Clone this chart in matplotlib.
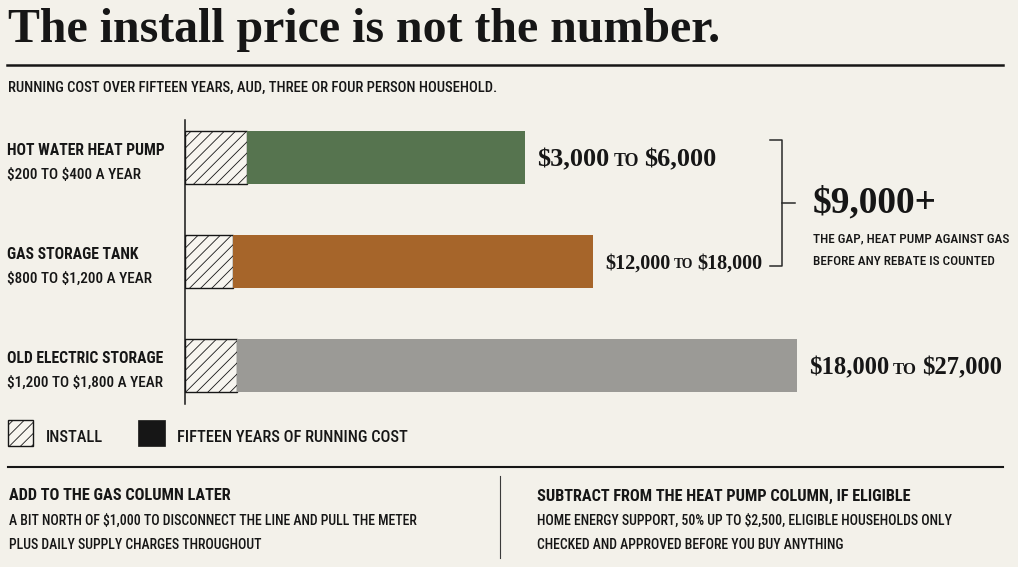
import matplotlib
matplotlib.use('Agg')
import matplotlib.pyplot as plt
from matplotlib import font_manager
from matplotlib.patches import Rectangle
from matplotlib.lines import Line2D
from matplotlib.transforms import Affine2D

# ---- data ----
systems = ['HOT WATER HEAT PUMP', 'GAS STORAGE TANK', 'OLD ELECTRIC STORAGE']
year_lo = ['$200', '$800', '$1,200']
year_hi = ['$400', '$1,200', '$1,800']
total_lo = ['$3,000', '$12,000', '$18,000']
total_hi = ['$6,000', '$18,000', '$27,000']
install = [1.55, 1.2, 1.3]      # bar lengths, arbitrary units
running = [6.95, 9.0, 14.0]
gap_value = '$9,000+'
gap_notes = ['THE GAP, HEAT PUMP AGAINST GAS', 'BEFORE ANY REBATE IS COUNTED']
legend_labels = ['INSTALL', 'FIFTEEN YEARS OF RUNNING COST']
left_head = 'ADD TO THE GAS COLUMN LATER'
left_lines = ['A BIT NORTH OF $1,000 TO DISCONNECT THE LINE AND PULL THE METER',
              'PLUS DAILY SUPPLY CHARGES THROUGHOUT']
right_head = 'SUBTRACT FROM THE HEAT PUMP COLUMN, IF ELIGIBLE'
right_lines = ['HOME ENERGY SUPPORT, 50% UP TO $2,500, ELIGIBLE HOUSEHOLDS ONLY',
               'CHECKED AND APPROVED BEFORE YOU BUY ANYTHING']
title = 'The install price is not the number.'
subtitle = 'RUNNING COST OVER FIFTEEN YEARS, AUD, THREE OR FOUR PERSON HOUSEHOLD.'

colors = ['#56744f', '#a6652a', '#9b9a96']
BG = '#f3f1ea'
INK = '#161616'
HATCH_FACE = '#f7f5ef'
SERIF = 'Liberation Serif'

# pick the narrowest sans we can find
fonts = font_manager.fontManager.ttflist
names = {f.name for f in fonts}
SANS, STRETCH = 'Roboto', 'normal'
for n in ['Roboto Condensed', 'Liberation Sans Narrow', 'Open Sans Condensed',
          'Noto Sans Condensed', 'DejaVu Sans Condensed']:
    if n in names:
        SANS = n
        break
else:
    for n in ['Roboto', 'Noto Sans', 'DejaVu Sans']:
        if any(f.name == n and f.stretch == 'condensed' for f in fonts):
            SANS, STRETCH = n, 'condensed'
            break

plt.rcParams['hatch.linewidth'] = 0.6

W, H = 1018, 567
fig = plt.figure(figsize=(W / 100, H / 100), dpi=100, facecolor=BG)
PX = Affine2D().scale(1 / W, -1 / H).translate(0, 1) + fig.transFigure
r = fig.canvas.get_renderer()


def size_for(s, width, family=None, weight='normal', base=12):
    family = family or SANS
    t = fig.text(0, 0, s, fontsize=base, family=family, fontweight=weight, parse_math=False,
                 fontstretch=STRETCH if family == SANS else 'normal')
    w = t.get_window_extent(r).width
    t.remove()
    return base * width / w


def label(x, y, s, size, weight='normal', family=None, va='center_baseline'):
    family = family or SANS
    return fig.text(x, y, s, transform=PX, fontsize=size, family=family,
                    fontweight=weight, color=INK, va=va, parse_math=False,
                    fontstretch=STRETCH if family == SANS else 'normal')


def serif_range(x, yc, lo, hi, width, size=20):
    kw = dict(transform=PX, family=SERIF, fontweight='bold', color=INK, va='baseline',
              parse_math=False)
    ks = [1, 0.68, 1]
    parts = [fig.text(0, 0, s, fontsize=size * k, **kw) for s, k in zip([lo, 'TO', hi], ks)]
    gap = 0.2 * size * 100 / 72
    ws = [p.get_window_extent(r).width for p in parts]
    k = width / (sum(ws) + 2 * gap)
    size *= k
    base = yc + 0.34 * size * 100 / 72
    cur = x
    for p, w, m in zip(parts, ws, ks):
        p.set_fontsize(size * m)
        p.set_position((cur, base))
        cur += (w + gap) * k


# ---- header ----
label(8.5, 41.7, title, size_for(title, 709, SERIF, 'bold'), 'bold', SERIF, va='baseline')
fig.add_artist(Line2D([7, 1003], [65, 65], transform=PX, color=INK, lw=1.8))
label(8.5, 86.5, subtitle, min(size_for(subtitle, 699, weight='medium'), 10.5), 'medium')

# ---- bars ----
ax = fig.add_axes([185 / W, 1 - 404 / H, (W - 185) / W, (404 - 120) / H])
ax.set_facecolor('none')
ypos = list(range(len(systems)))
ax.barh(ypos, install, height=0.51, color=HATCH_FACE, edgecolor=INK, hatch='///', linewidth=1.0)
ax.barh(ypos, running, left=install, height=0.51, color=colors, linewidth=0)
ax.set_xlim(0, (W - 185) / 40)
ax.set_ylim(2.37, -0.36)
ax.set_xticks([])
ax.set_yticks([])
for s in ['top', 'right', 'bottom']:
    ax.spines[s].set_visible(False)
ax.spines['left'].set_linewidth(1.1)
ax.spines['left'].set_color(INK)

# category labels
name_size = size_for(systems[2], 156, weight='bold')
year_txt = [f'{a} TO {b} A YEAR' for a, b in zip(year_lo, year_hi)]
year_size = size_for(year_txt[2], 156, weight='medium')
centers = []
for i in ypos:
    xd, yd = ax.transData.transform((0, i))
    yc = H - yd
    centers.append(yc)
    label(7.5, yc - 8.5, systems[i], name_size, 'bold')
    label(7.5, yc + 16, year_txt[i], year_size, 'medium')

# range labels at bar ends
range_widths = [179, 157, 192]
for i in ypos:
    xd, yd = ax.transData.transform((install[i] + running[i], i))
    serif_range(xd + 12, H - yd, total_lo[i], total_hi[i], range_widths[i])

# bracket between heat pump and gas
top, bot = centers[0] - 17.5, centers[1] + 4.5
fig.add_artist(Line2D([770, 782, 782, 770], [top, top, bot, bot], transform=PX, color='#2a2a2a', lw=1.1))
mid = (top + bot) / 2
fig.add_artist(Line2D([782, 795], [mid, mid], transform=PX, color='#2a2a2a', lw=1.1))
label(812.5, mid - 3.5, gap_value, size_for(gap_value, 124, SERIF, 'bold'), 'bold', SERIF)
note_size = size_for(gap_notes[0], 197, weight='medium')
label(813, mid + 34, gap_notes[0], note_size, 'medium')
label(813, mid + 57.5, gap_notes[1], note_size, 'medium')

# ---- legend ----
fig.add_artist(Rectangle((8, 420), 25, 26, transform=PX, facecolor=HATCH_FACE,
                         edgecolor=INK, hatch='///', lw=1.0))
fig.add_artist(Rectangle((138, 420), 27, 26, transform=PX, facecolor=INK, edgecolor=INK, lw=0.5))
leg_size = size_for(legend_labels[1], 231, weight='medium')
label(46, 435.5, legend_labels[0], leg_size, 'medium')
label(177, 435.5, legend_labels[1], leg_size, 'medium')

# ---- footnotes ----
fig.add_artist(Line2D([8, 1003], [466.5, 466.5], transform=PX, color=INK, lw=1.5))
fig.add_artist(Line2D([500.5, 500.5], [476, 558], transform=PX, color='#3a3a3a', lw=0.8))
head_size = size_for(right_head, 375, weight='bold')
body_size = size_for(right_lines[0], 415, weight='medium')
label(9, 494.5, left_head, head_size, 'bold')
label(537.5, 494.5, right_head, head_size, 'bold')
for j, (a, b) in enumerate(zip(left_lines, right_lines)):
    label(9, 519 + 24.5 * j, a, body_size, 'medium')
    label(537.5, 519 + 24.5 * j, b, body_size, 'medium')

fig.savefig('out.png', dpi=100, facecolor=BG)
